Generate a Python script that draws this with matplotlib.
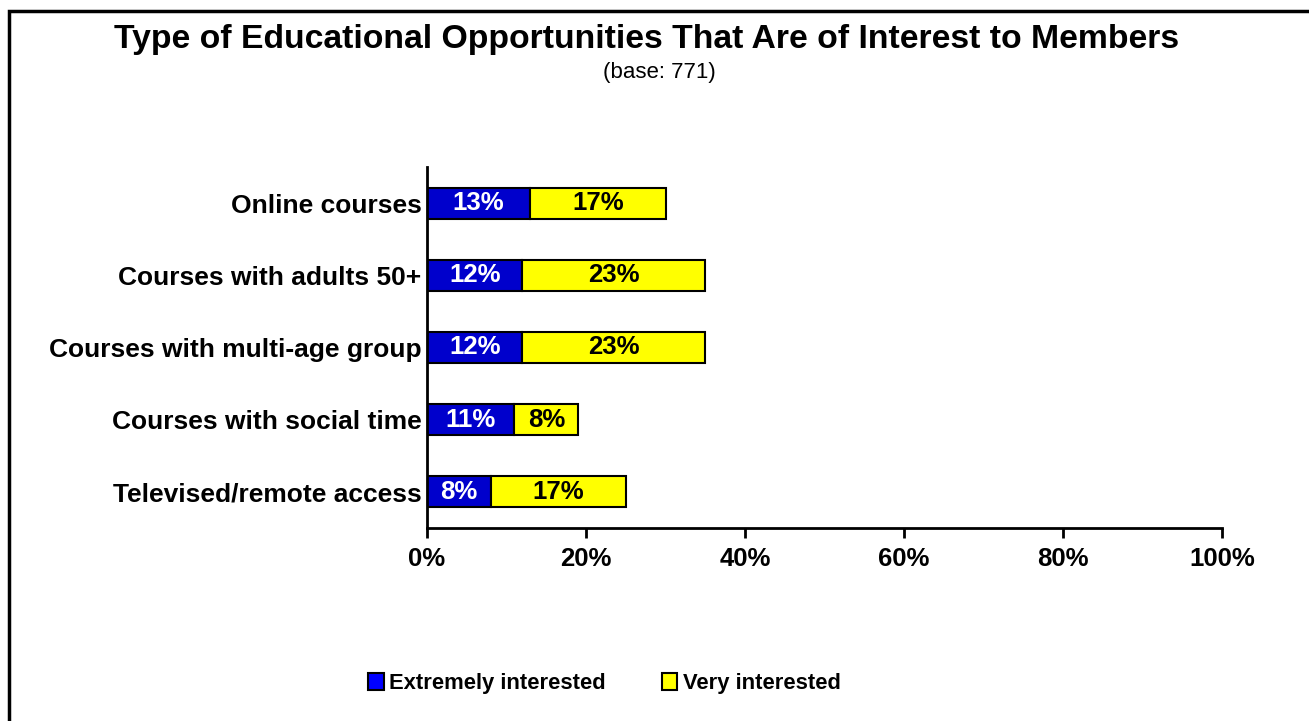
import numpy as np
import matplotlib.pyplot as plt
from matplotlib.patches import Rectangle, Patch

plt.rcParams['font.family'] = ['Liberation Sans', 'DejaVu Sans']
plt.rcParams['font.weight'] = 'bold'

# survey items, top to bottom
items = ['Online courses', 'Courses with adults 50+', 'Courses with multi-age group',
         'Courses with social time', 'Televised/remote access']
extremely = [13, 12, 12, 11, 8]
very = [17, 23, 23, 8, 17]

fig = plt.figure(figsize=(13.09, 7.21), dpi=100)
ax = fig.add_axes([0.3262, 0.2677, 0.6074, 0.5007])

y = np.arange(len(items))[::-1]
h = 0.43
ax.barh(y, extremely, height=h, color='#0000cc', edgecolor='black', linewidth=1.5)
ax.barh(y, very, left=extremely, height=h, color='#ffff00', edgecolor='black', linewidth=1.5)

for yi, e, v in zip(y, extremely, very):
    ax.text(e / 2, yi, f'{e}%', ha='center', va='center', color='white',
            fontsize=18.5, fontweight='bold')
    ax.text(e + v / 2, yi, f'{v}%', ha='center', va='center', color='black',
            fontsize=18.5, fontweight='bold')

ax.set_xlim(0, 100)
ax.set_ylim(-0.5, 4.5)
ax.set_xticks([0, 20, 40, 60, 80, 100])
ax.set_xticklabels([f'{t}%' for t in [0, 20, 40, 60, 80, 100]])
ax.set_yticks(y)
ax.set_yticklabels(items)
ax.tick_params(axis='y', length=0, pad=4, labelsize=19)
ax.tick_params(axis='x', length=7, width=2, pad=7, labelsize=18.5)
for lab in ax.get_xticklabels() + ax.get_yticklabels():
    lab.set_fontweight('bold')
ax.spines['top'].set_visible(False)
ax.spines['right'].set_visible(False)
ax.spines['left'].set_linewidth(2)
ax.spines['bottom'].set_linewidth(2)

fig.text(0.494, 0.945, 'Type of Educational Opportunities That Are of Interest to Members',
         ha='center', va='center', fontsize=24.3, fontweight='bold')
fig.text(0.504, 0.899, '(base: 771)', ha='center', va='center', fontsize=16, fontweight='normal')

handles = [Patch(facecolor='#0000ff', edgecolor='black', linewidth=1.5, label='Extremely interested'),
           Patch(facecolor='#ffff00', edgecolor='black', linewidth=1.5, label='Very interested')]
fig.legend(handles=handles, loc='center', bbox_to_anchor=(0.4618, 0.052), ncol=2,
           frameon=False, fontsize=15.8, handlelength=0.7, handleheight=0.8,
           handletextpad=0.25, columnspacing=2.55)

# outer frame of the chart area
fig.patches.append(Rectangle((0.0069, -0.1), 1.2, 1.1 - 0.0153, transform=fig.transFigure,
                             fill=False, edgecolor='black', linewidth=2.5))

fig.savefig('out.png', dpi=100)
